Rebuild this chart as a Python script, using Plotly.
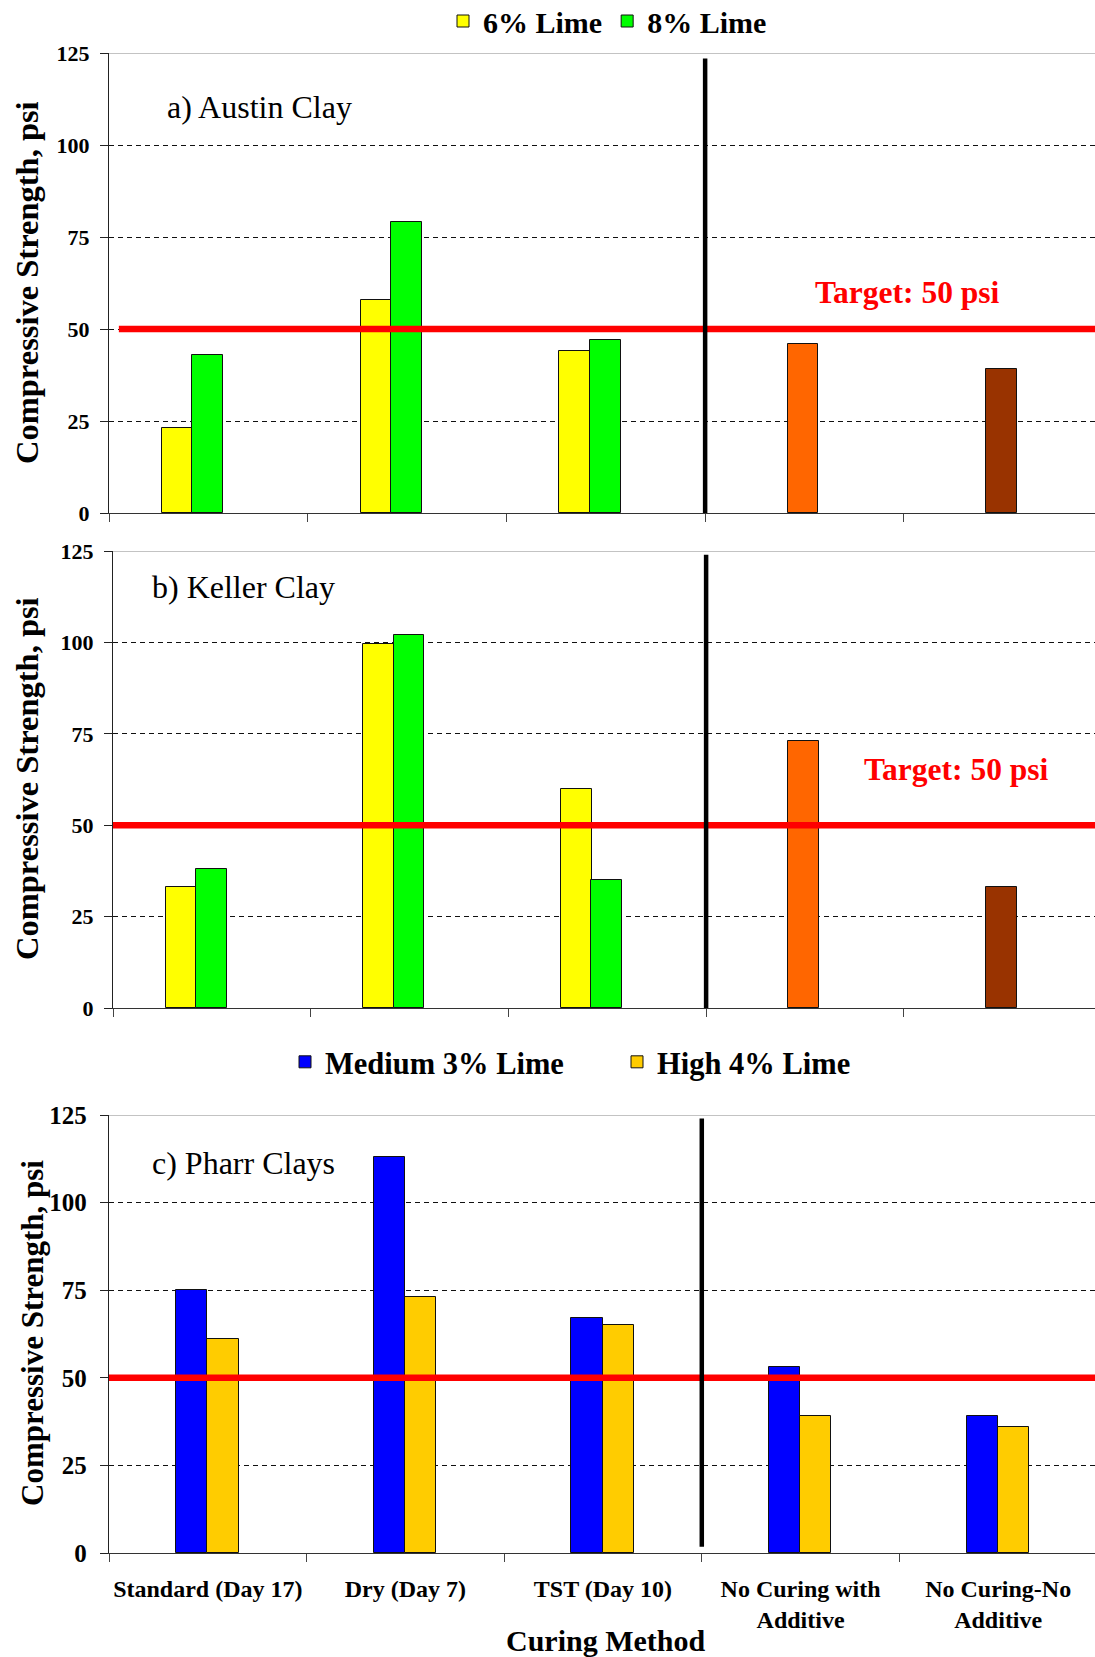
import plotly.graph_objects as go

# ---------------- data ----------------
categories = ["Standard (Day 17)", "Dry (Day 7)", "TST (Day 10)",
              "No Curing with<br>Additive", "No Curing-No<br>Additive"]
lime_categories = categories[:3]
nocure_categories = categories[3:]

austin_6 = [23, 58, 44]
austin_8 = [43, 79, 47]
austin_nocure = [46, 39]

keller_6 = [33, 99.5, 60]
keller_8 = [38, 102, 35]
keller_nocure = [73, 33]

pharr_medium = [75, 113, 67, 53, 39]
pharr_high = [61, 73, 65, 39, 36]

target_psi = 50
y_tick_values = [0, 25, 50, 75, 100, 125]
y_max = 125

# ---------------- styles ----------------
W, H = 1095, 1657
SERIF = "Liberation Serif"
YELLOW, GREEN = "#FFFF00", "#00FF00"
ORANGE, BROWN = "#FF6600", "#993300"
BLUE, GOLD = "#0000FF", "#FFCC00"
nocure_colors = [ORANGE, BROWN]
BAR_LINE = dict(color="#111111", width=1)
BW = 0.155


def ydom(top_px, bottom_px):
    return [1 - bottom_px / H, 1 - top_px / H]


fig = go.Figure()

# panel a
fig.add_bar(x=lime_categories, y=austin_6, name="6% Lime", marker=dict(color=YELLOW, line=BAR_LINE),
            width=BW, offset=-0.234, xaxis="x", yaxis="y", legend="legend", legendgroup="6")
fig.add_bar(x=lime_categories, y=austin_8, name="8% Lime", marker=dict(color=GREEN, line=BAR_LINE),
            width=BW, offset=-0.08, xaxis="x", yaxis="y", legend="legend", legendgroup="8")
fig.add_bar(x=nocure_categories, y=austin_nocure, marker=dict(color=nocure_colors, line=BAR_LINE),
            width=BW, offset=-0.085, xaxis="x", yaxis="y", showlegend=False)
# panel b
fig.add_bar(x=lime_categories, y=keller_6, name="6% Lime", marker=dict(color=YELLOW, line=BAR_LINE),
            width=BW, offset=-0.234, xaxis="x2", yaxis="y2", showlegend=False, legendgroup="6")
fig.add_bar(x=lime_categories, y=keller_8, name="8% Lime", marker=dict(color=GREEN, line=BAR_LINE),
            width=BW, offset=-0.08, xaxis="x2", yaxis="y2", showlegend=False, legendgroup="8")
fig.add_bar(x=nocure_categories, y=keller_nocure, marker=dict(color=nocure_colors, line=BAR_LINE),
            width=BW, offset=-0.085, xaxis="x2", yaxis="y2", showlegend=False)
# panel c
fig.add_bar(x=categories, y=pharr_medium, name="Medium 3% Lime", marker=dict(color=BLUE, line=BAR_LINE),
            width=0.158, offset=-0.16, xaxis="x3", yaxis="y3", legend="legend2")
fig.add_bar(x=categories, y=pharr_high, name="High 4% Lime", marker=dict(color=GOLD, line=BAR_LINE),
            width=0.158, offset=-0.002, xaxis="x3", yaxis="y3", legend="legend2")


def xaxis_style(xstart_px, rng, show_labels, anchor):
    return dict(domain=[xstart_px / W, 1], range=rng, type="category",
                categoryorder="array", categoryarray=categories,
                tickson="boundaries", ticks="outside", ticklen=8, tickcolor="#444",
                showline=True, linecolor="#333", linewidth=1.3, showgrid=False,
                showticklabels=show_labels, anchor=anchor, fixedrange=True,
                tickangle=0, automargin=False,
                tickfont=dict(family=SERIF, size=24, color="black", weight="bold"),
                ticklabelstandoff=14)


def yaxis_style(dom, anchor, fsize, standoff):
    return dict(domain=dom, range=[0, y_max], tickvals=y_tick_values, ticks="outside", ticklen=8,
                tickcolor="#222", showline=True, linecolor="#222", linewidth=1.3,
                showgrid=True, gridcolor="#111", gridwidth=1, griddash="5px,4px",
                zeroline=False, anchor=anchor, automargin=False, fixedrange=True,
                tickfont=dict(family=SERIF, size=fsize, color="black", weight="bold"),
                ticklabelstandoff=standoff)


fig.update_layout(
    width=W, height=H, margin=dict(l=0, r=0, t=0, b=0, autoexpand=False),
    paper_bgcolor="white", plot_bgcolor="white", bargap=0, barmode="overlay",
    xaxis=xaxis_style(109, [-0.5, 4.462], False, "y"),
    yaxis=yaxis_style(ydom(53, 513), "x", 22, 6),
    xaxis2=xaxis_style(113, [-0.5, 4.467], False, "y2"),
    yaxis2=yaxis_style(ydom(551, 1008), "x2", 22, 6),
    xaxis3=xaxis_style(109, [-0.5, 4.49], True, "y3"),
    yaxis3=yaxis_style(ydom(1115, 1553), "x3", 25, 8),
    legend=dict(orientation="h", x=443 / W, xanchor="left", y=1 - 21 / H, yanchor="middle",
                font=dict(family=SERIF, size=30, color="black", weight="bold"),
                traceorder="normal", itemwidth=30, bgcolor="rgba(0,0,0,0)"),
    legend2=dict(orientation="h", x=285 / W, xanchor="left", y=1 - 1062 / H, yanchor="middle",
                 font=dict(family=SERIF, size=30.5, color="black", weight="bold"),
                 traceorder="normal", itemwidth=30, entrywidth=287, bgcolor="rgba(0,0,0,0)"),
    showlegend=True,
)

# target lines, separators, top border lines
shapes = []
for xr, x0 in (("x", 0.01), ("x2", 0.0), ("x3", 0.0)):
    yr = xr.replace("x", "y")
    shapes.append(dict(type="line", xref=f"{xr} domain", yref=yr, x0=0, x1=1, y0=y_max, y1=y_max,
                       line=dict(color="#888888", width=1.2), layer="below"))
    shapes.append(dict(type="line", xref=f"{xr} domain", yref=yr,
                       x0=x0, x1=1, y0=target_psi, y1=target_psi,
                       line=dict(color="#FF0000", width=6.5), layer="above"))
sep_x = len(lime_categories) - 0.5
for xr, y0, y1 in (("x", 0, 123.5), ("x2", -1.2, 124), ("x3", 1.8, 124)):
    shapes.append(dict(type="line", xref=xr, yref=xr.replace("x", "y"),
                       x0=sep_x, x1=sep_x, y0=y0, y1=y1,
                       line=dict(color="black", width=4.5), layer="above"))
fig.update_layout(shapes=shapes)

labelfont = dict(family=SERIF, size=32, color="black")
targetfont = dict(family=SERIF, size=31.5, color="#FF0000", weight="bold")
ytitle = "Compressive Strength, psi"
ann = [
    dict(text=ytitle, xref="paper", yref="paper", x=27 / W, y=1 - 283 / H, textangle=-90,
         xanchor="center", yanchor="middle", showarrow=False,
         font=dict(family=SERIF, size=32.5, color="black", weight="bold")),
    dict(text=ytitle, xref="paper", yref="paper", x=27 / W, y=1 - 779 / H, textangle=-90,
         xanchor="center", yanchor="middle", showarrow=False,
         font=dict(family=SERIF, size=32.5, color="black", weight="bold")),
    dict(text=ytitle, xref="paper", yref="paper", x=32 / W, y=1 - 1333 / H, textangle=-90,
         xanchor="center", yanchor="middle", showarrow=False,
         font=dict(family=SERIF, size=31, color="black", weight="bold")),
    dict(text="a) Austin Clay", xref="paper", yref="paper", x=165 / W, y=1 - 107 / H,
         xanchor="left", yanchor="middle", showarrow=False, font=labelfont),
    dict(text="b) Keller Clay", xref="paper", yref="paper", x=150 / W, y=1 - 587 / H,
         xanchor="left", yanchor="middle", showarrow=False, font=labelfont),
    dict(text="c) Pharr Clays", xref="paper", yref="paper", x=150 / W, y=1 - 1163 / H,
         xanchor="left", yanchor="middle", showarrow=False, font=labelfont),
    dict(text=f"Target: {target_psi} psi", xref="paper", yref="paper", x=907 / W, y=1 - 292 / H,
         xanchor="center", yanchor="middle", showarrow=False, font=targetfont),
    dict(text=f"Target: {target_psi} psi", xref="paper", yref="paper", x=956 / W, y=1 - 770 / H,
         xanchor="center", yanchor="middle", showarrow=False, font=targetfont),
    dict(text="Curing Method", xref="paper", yref="paper", x=605 / W, y=1 - 1640 / H,
         xanchor="center", yanchor="middle", showarrow=False,
         font=dict(family=SERIF, size=30, color="black", weight="bold")),
]
fig.update_layout(annotations=ann)

fig.write_html("out.html", config={"displayModeBar": False},
               post_script="document.body.style.margin='0px';document.body.style.overflow='hidden';")
